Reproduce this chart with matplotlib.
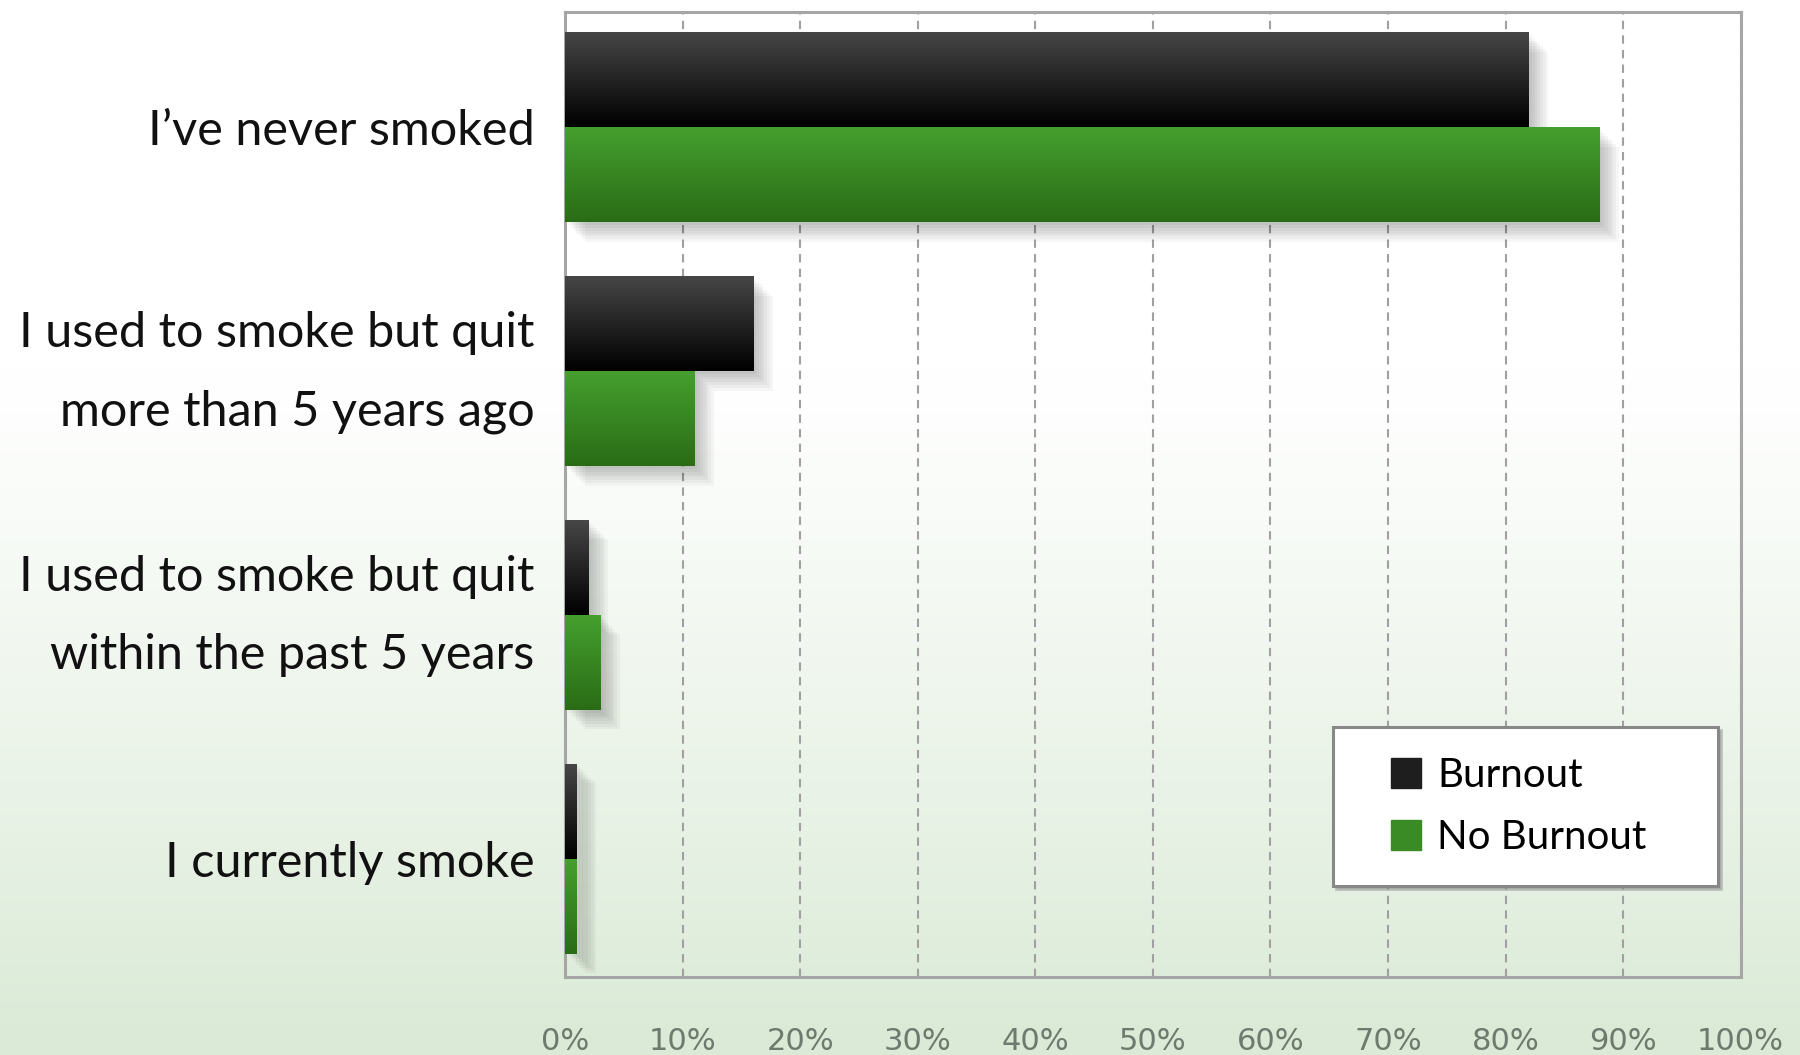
import numpy as np
import matplotlib
matplotlib.use("Agg")
import matplotlib.pyplot as plt
from matplotlib.lines import Line2D
from matplotlib import patheffects as pe
from matplotlib.transforms import ScaledTranslation

categories = ["I\u2019ve never smoked",
              "I used to smoke but quit\nmore than 5 years ago",
              "I used to smoke but quit\nwithin the past 5 years",
              "I currently smoke"]
burnout = [82, 16, 2, 1]
no_burnout = [88, 11, 3, 1]
series_names = ["Burnout", "No Burnout"]
xticks = list(range(0, 101, 10))
xtick_labels = ["%d%%" % t for t in xticks]

# gradient stops for bars (top colour, bottom colour)
black_grad = ("#474747", "#000000")
green_grad = ("#46a02f", "#2a6c16")

plt.rcParams['font.family'] = ['Lato', 'DejaVu Sans']

fig = plt.figure(figsize=(18, 10.55), dpi=100)

# page background: white at top fading to pale green
bg = fig.add_axes([0, 0, 1, 1], zorder=-10)
t = np.linspace(0, 1, 400)
t = np.clip((t - 0.35) / 0.65, 0, 1) ** 1.1
top = np.array([1.0, 1.0, 1.0])
bot = np.array([218, 234, 214]) / 255.0
grad = top[None, :] * (1 - t[:, None]) + bot[None, :] * t[:, None]
bg.imshow(grad[:, None, :], aspect='auto', extent=[0, 1, 0, 1])
bg.axis('off')

ax = fig.add_axes([0.314, 0.074, 0.653, 0.915])
ax.set_facecolor('none')

y = np.arange(len(categories))
h = 0.39


def vgrad(c_top, c_bot, n=64):
    a = np.array(matplotlib.colors.to_rgb(c_top))
    b = np.array(matplotlib.colors.to_rgb(c_bot))
    s = np.linspace(0, 1, n)[:, None]
    return (a * (1 - s) + b * s)[:, None, :]


shadow = [pe.SimplePatchShadow(offset=(o, -o), shadow_rgbFace='k', alpha=0.035)
          for o in range(2, 16, 2)] + [pe.Normal()]

for vals, off, (ct, cb) in [(burnout, -h / 2, black_grad), (no_burnout, h / 2, green_grad)]:
    bars = ax.barh(y + off, vals, height=h, color=cb, zorder=3)
    for p in bars:
        p.set_path_effects(shadow)
        x0, y0 = p.get_x(), p.get_y()
        w, hh = p.get_width(), p.get_height()
        # inverted y-axis: y0 is top visually
        im = ax.imshow(vgrad(ct, cb), aspect='auto', zorder=4,
                       extent=[x0, x0 + w, y0 + hh, y0], interpolation='bilinear')
        im.set_clip_path(p)

ax.set_xlim(0, 100)
ax.set_ylim(len(categories) - 1 + 0.485, -0.475)
ax.set_xticks(xticks)
ax.set_xticklabels(xtick_labels, fontsize=22, color='#6d7a6d', family='DejaVu Sans')
ax.set_yticks(y)
ax.set_yticklabels(categories, fontsize=35, color='#111111', linespacing=1.95)
ax.tick_params(axis='x', length=0, pad=36)
ax.tick_params(axis='y', length=0, pad=22)
# two-line labels sit a bit low, nudge them up
for lab in ax.get_yticklabels():
    if '\n' in lab.get_text():
        lab.set_transform(lab.get_transform() + ScaledTranslation(0, 0.2, fig.dpi_scale_trans))
ax.grid(axis='x', color='#a0a0a0', linestyle=(0, (4, 3)), linewidth=1.5, zorder=1)
for s in ax.spines.values():
    s.set_color('#a6a6a6')
    s.set_linewidth(2.2)

handles = [Line2D([], [], linestyle='none', marker='s', markersize=21,
                  markerfacecolor=c, markeredgecolor=c)
           for c in ["#1e1e1e", "#3a8a26"]]
leg = ax.legend(handles, series_names, loc='upper left',
                bbox_to_anchor=(0.653, 0.093, 0.328, 0.166), mode='expand',
                borderaxespad=0, fontsize=29, frameon=True, fancybox=False,
                borderpad=0.75, handlelength=2.15, handletextpad=-0.3,
                labelspacing=0.62, shadow={'color': '0.5', 'alpha': 0.35})
leg.get_frame().set_edgecolor('#888888')
leg.get_frame().set_linewidth(2.2)
leg.get_frame().set_facecolor('white')
leg.set_zorder(6)

fig.savefig("out.png", dpi=100)
